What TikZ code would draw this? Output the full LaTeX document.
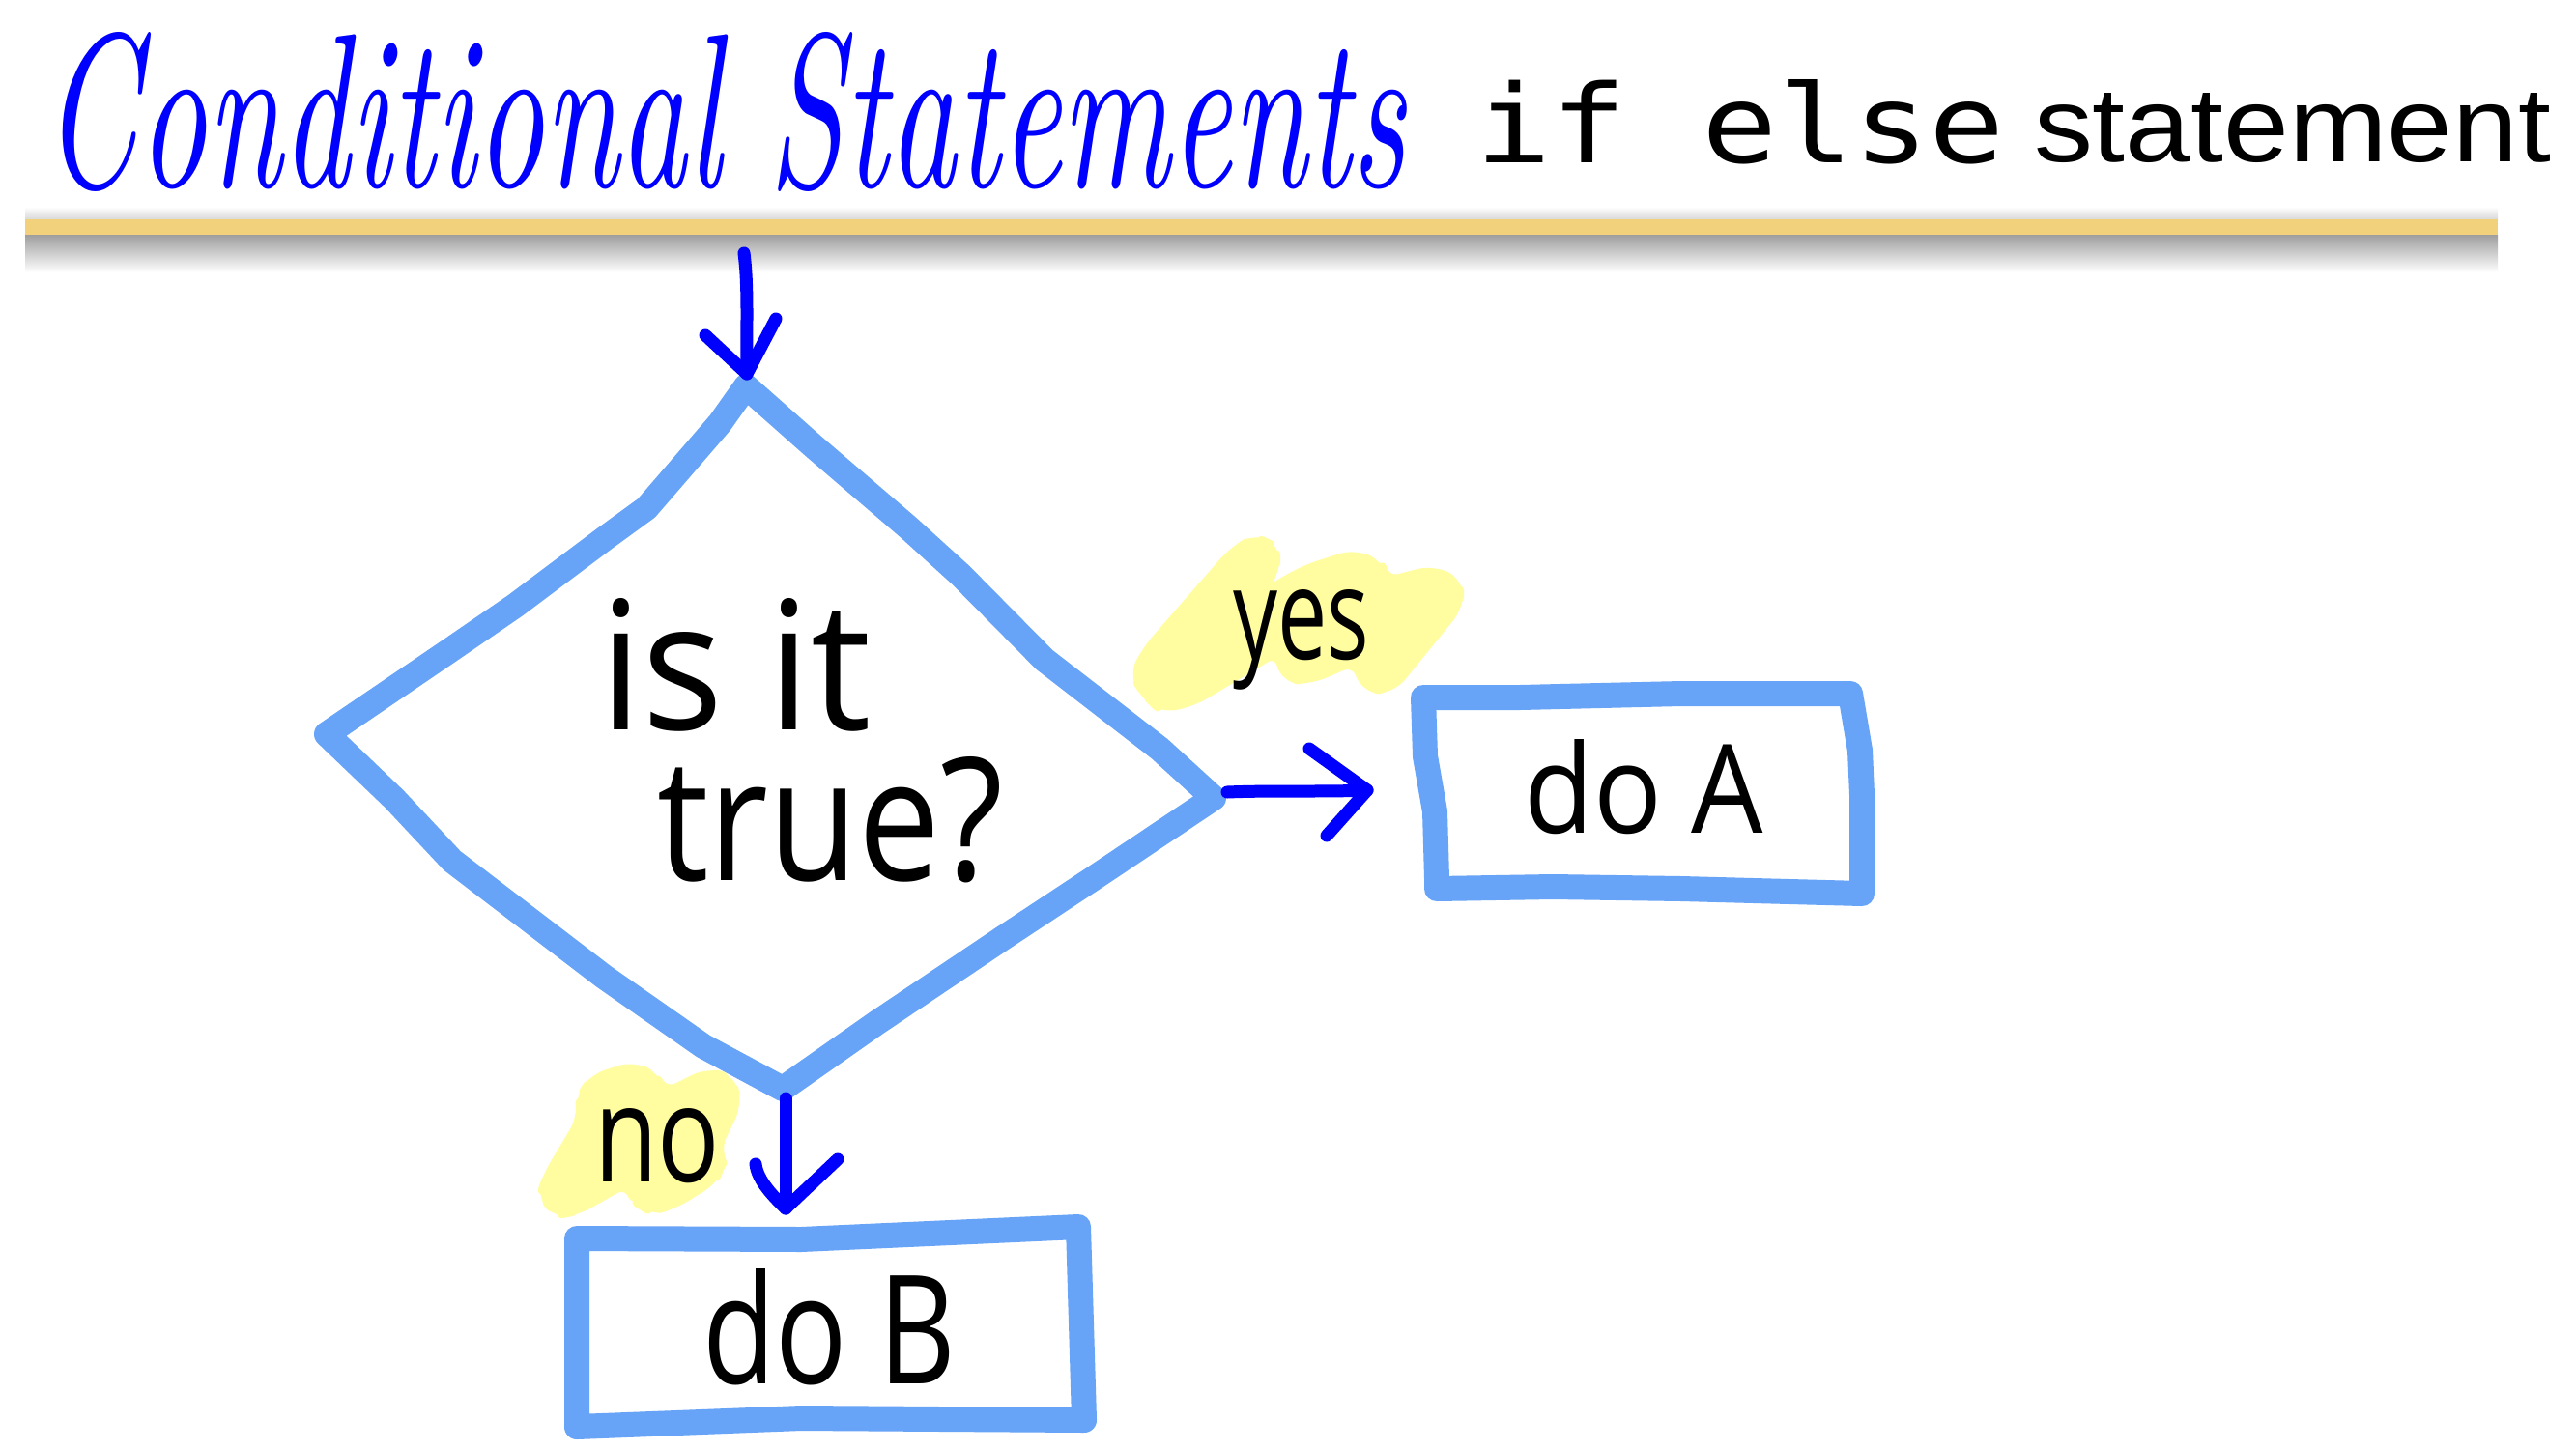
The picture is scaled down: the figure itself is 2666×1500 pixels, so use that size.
\documentclass[tikz,border=0pt]{standalone}
\usepackage{fontspec}
\usepackage{graphicx}
\newfontfamily\handfont{Open Sans}
\newfontfamily\monofont{DejaVu Sans Mono}
\newfontfamily\labelsans{Liberation Sans}
\definecolor{boxblue}{RGB}{103,164,247}
\definecolor{penblue}{RGB}{0,0,255}
\definecolor{marker}{RGB}{255,253,160}
\definecolor{gold}{RGB}{242,209,125}
\tikzset{
  sketch/.style={draw=boxblue, line width=2.6mm, line cap=round, line join=round},
  pen/.style={draw=penblue, line width=1.3mm, line cap=round, line join=round},
  hilite/.style={fill=marker, draw=marker, line width=1mm, line join=round, rounded corners=1.6mm},
  txt/.style={anchor=base west, inner sep=0pt, outer sep=0pt},
}
\begin{document}
\begin{tikzpicture}[x=0.1mm, y=-0.1mm]
\useasboundingbox[fill=white] (0,0) rectangle (2666,1500);

% ---------- header ----------
\node[txt, text=penblue] (title) at (45,193) {\resizebox{141mm}{16mm}{\itshape Conditional Statements}};
\node[txt] (ifelse) at (1527,168) {\resizebox{54.8mm}{8.6mm}{\monofont if else}};
\node[txt] (stmt) at (2105,168) {\resizebox{53.5mm}{7.1mm}{\labelsans statement}};

\shade[top color=white, bottom color=black!15] (26,214) rectangle (2585,227);
\shade[top color=black!38, bottom color=white] (26,243) rectangle (2585,282);
\fill[gold] (26,227) rectangle (2585,243);

% ---------- highlights ----------
\path[hilite] (1187,720) -- (1173,700) -- (1187,673) -- (1277,570) -- (1300,557) -- (1320,567)
  -- (1320,590) -- (1303,617) -- (1350,590) -- (1403,573) -- (1430,587) -- (1433,603)
  -- (1483,590) -- (1510,603) -- (1510,627) -- (1440,713) -- (1413,713) -- (1403,683)
  -- (1357,703) -- (1330,703) -- (1323,673) -- (1233,727) -- (1200,733) -- cycle;
\path[hilite] (560,1237) -- (577,1257) -- (597,1253) -- (650,1223) -- (657,1243) -- (673,1253)
  -- (697,1247) -- (740,1220) -- (747,1203) -- (740,1190) -- (763,1143) -- (757,1117)
  -- (733,1110) -- (687,1133) -- (680,1117) -- (657,1103) -- (613,1117) -- (600,1137)
  -- (603,1157) -- (567,1217) -- cycle;

% ---------- decision diamond ----------
\coordinate (dtop) at (772,400);
\coordinate (dleft) at (338,760);
\coordinate (dright) at (1256,826);
\coordinate (dbottom) at (810,1127);
\draw[sketch] (dtop) -- (745,438) -- (669,526) -- (625,558) -- (533,627) -- (463,675) -- (dleft)
  -- (408,827) -- (468,891) -- (625,1011) -- (728,1083) -- (dbottom)
  -- (907,1059) -- (1038,971) -- (1135,907) -- (dright)
  -- (1200,775) -- (1081,683) -- (994,595) -- (940,546) -- (842,462) -- cycle;

\node[txt] (isit) at (620,755) {\resizebox{28.2mm}{13.6mm}{\handfont is it}};
\node[txt] (true) at (680,911) {\resizebox{35.8mm}{12.8mm}{\handfont true?}};

% ---------- box do A ----------
\draw[sketch] (1473,722) -- (1573,722) -- (1740,718) -- (1915,718)
  -- (1925,777) -- (1927,823) -- (1927,925)
  -- (1740,920) -- (1607,918) -- (1487,920)
  -- (1487,910) -- (1485,840) -- (1475,783) -- cycle;
\node[txt] (doA) at (1577,862) {\resizebox{24.8mm}{9.7mm}{\handfont do A}};

% ---------- box do B ----------
\draw[sketch] (597,1282) -- (829,1283) -- (1116,1270)
  -- (1122,1470) -- (829,1468) -- (597,1477) -- cycle;
\node[txt] (doB) at (727,1432) {\resizebox{26.2mm}{11.9mm}{\handfont do B}};

% ---------- labels ----------
\node[txt] (yes) at (1276,682) {\resizebox{14.1mm}{7.2mm}{\handfont yes}};
\node[txt] (no) at (615,1223) {\resizebox{13.0mm}{7.6mm}{\handfont no}};

% ---------- arrows ----------
\coordinate (instart) at (770,262);
\coordinate (intip) at (773,387);
\draw[pen] (instart) .. controls (775,300) and (772,350) .. (intip);
\draw[pen] (730,347) -- (intip) -- (803,330);

\coordinate (yesstart) at (1270,820);
\coordinate (yestip) at (1415,818);
\draw[pen] (yesstart) .. controls (1320,818) and (1370,820) .. (yestip);
\draw[pen] (1355,775) -- (yestip) -- (1373,865);

\coordinate (nostart) at (813,1137);
\coordinate (notip) at (813,1251);
\draw[pen] (nostart) -- (notip);
\draw[pen] (782,1205) .. controls (784,1222) and (800,1238) .. (notip) -- (867,1200);
\end{tikzpicture}
\end{document}
